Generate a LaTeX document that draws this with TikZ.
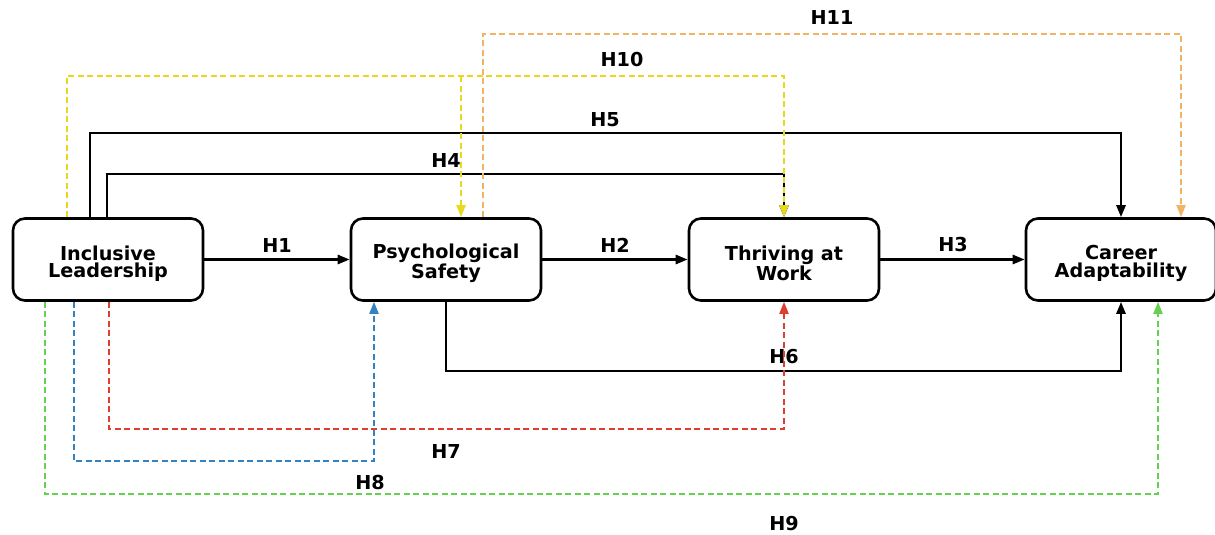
\documentclass[tikz,border=0pt]{standalone}
\usepackage{fontspec}
\setmainfont{DejaVu Sans}
\usetikzlibrary{arrows.meta}
\definecolor{hyellow}{RGB}{232,216,30}
\definecolor{horange}{RGB}{242,180,100}
\definecolor{hred}{RGB}{222,62,50}
\definecolor{hblue}{RGB}{52,130,192}
\definecolor{hgreen}{RGB}{100,210,80}
\tikzset{
  var/.style={draw, line width=2.6pt, rounded corners=12pt, minimum width=190pt, minimum height=82pt,
    align=center, inner sep=0pt, font=\bfseries\fontsize{19.2}{17.5}\selectfont},
  direct/.style={line width=2.6pt, -{Triangle[length=12pt,width=9pt]}},
  med/.style={line width=2pt, dash pattern=on 6pt off 3.5pt, -{Triangle[length=12pt,width=9pt]}},
  hlab/.style={font=\bfseries\fontsize{19.2}{20}\selectfont}
}

\begin{document}
\begin{tikzpicture}[x=1pt,y=-1pt]
  \useasboundingbox (0,0) rectangle (1215,535);
  %%%%% variables %%%%%
  \node[var] (il) at (108,259.5) {\strut\\[-10.5pt]Inclusive\\Leadership};
  \node[var] (ps) at (446,259.5) {\strut\\[-10.5pt]Psychological\\Safety};
  \node[var] (tw) at (784,259.5) {\strut\\[-10.5pt]Thriving at\\Work};
  \node[var] (ca) at (1121,259.5) {\strut\\[-10.5pt]Career\\Adaptability};

  %%%%% direct paths %%%%%
  \draw[direct] (il) -- (ps);
  \draw[direct] (ps) -- (tw);
  \draw[direct] (tw) -- (ca);
  \node[hlab] (h1) at (277,245) {H1};
  \node[hlab] (h2) at (615,245) {H2};
  \node[hlab] (h3) at (953,245) {H3};

  \draw[direct] ([xshift=-18pt]il.north) |- (600,133) -| (ca.north);
  \node[hlab] (h5) at (605,120) {H5};
  \draw[direct] ([xshift=-1pt]il.north) |- (500,174) -| (tw.north);
  \node[hlab] (h4) at (446,160) {H4};
  \draw[direct] (ps.south) |- (800,371) -| (ca.south);
  \node[hlab] (h6) at (784,357) {H6};

  %%%%% mediated paths %%%%%
  \draw[med, hyellow] ([xshift=-41pt]il.north) |- (500,76) -| (tw.north);
  \coordinate (psin) at ([xshift=15pt]ps.north);
  \draw[med, hyellow] (psin |- 0,76) -- (psin);
  \node[hlab] (h10) at (622,60) {H10};
  \draw[med, horange] ([xshift=37pt]ps.north) |- (800,34) -| ([xshift=60pt]ca.north);
  \node[hlab] (h11) at (832,18) {H11};

  \draw[med, hred] ([xshift=1pt]il.south) |- (500,429) -| (tw.south);
  \node[hlab] (h7) at (446,451) {H7};
  \draw[med, hblue] ([xshift=-34pt]il.south) |- (200,461) -| ([xshift=-72pt]ps.south);
  \node[hlab] (h8) at (370,483) {H8};
  \draw[med, hgreen] ([xshift=-63pt]il.south) |- (600,494) -| ([xshift=37pt]ca.south);
  \node[hlab] (h9) at (784,524) {H9};
\end{tikzpicture}
\end{document}
